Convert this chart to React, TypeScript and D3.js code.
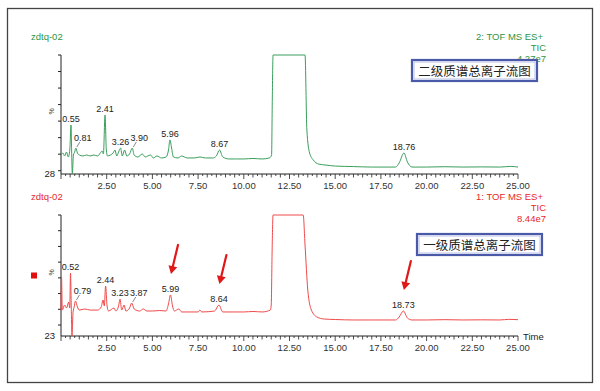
import React from 'react';
import * as d3 from 'd3';

// MS2 total ion chromatogram (time in min, relative %)
const tic2: [number, number][] = [
  [0.0, 39.5], [0.1, 40.7], [0.2, 38.9], [0.3, 41.3], [0.4, 38.3], [0.48, 42.5],
  [0.55, 57.6], [0.58, 42.5], [0.62, 28.3], [0.68, 39.5], [0.75, 41.3], [0.81, 43.7],
  [0.9, 40.7], [1.0, 39.5], [1.2, 38.9], [1.4, 39.5], [1.6, 38.9], [1.8, 39.5],
  [2.0, 38.9], [2.15, 40.7], [2.25, 41.9], [2.32, 40.1], [2.41, 63.7], [2.48, 42.5],
  [2.55, 38.9], [2.7, 39.5], [2.85, 40.7], [2.95, 42.5], [3.05, 38.9], [3.15, 41.3],
  [3.26, 43.7], [3.35, 38.9], [3.48, 42.5], [3.6, 38.9], [3.75, 40.1], [3.9, 43.7],
  [4.0, 39.5], [4.2, 38.3], [4.45, 40.1], [4.6, 38.3], [4.9, 39.5], [5.05, 37.7],
  [5.25, 38.9], [5.5, 37.7], [5.75, 38.3], [5.88, 42.5], [5.96, 48.6], [6.05, 43.7],
  [6.15, 38.3], [6.4, 37.7], [6.6, 38.9], [6.9, 37.7], [7.3, 37.7], [7.6, 38.3],
  [7.9, 37.7], [8.3, 37.7], [8.5, 38.9], [8.67, 42.5], [8.85, 38.3], [9.2, 37.1],
  [9.6, 37.1], [10.0, 37.1], [10.5, 37.4], [11.0, 37.1], [11.4, 37.7], [11.52, 39.5],
  [11.56, 74], [11.6, 100], [13.35, 100], [13.45, 54.6], [13.6, 40.7], [13.8, 36.5],
  [14.1, 34.0], [14.5, 33.4], [15.0, 32.8], [16.0, 32.5], [17.0, 32.2], [18.3, 32.2],
  [18.5, 34.7], [18.76, 40.7], [18.95, 35.3], [19.2, 32.2], [20.0, 32.2], [21.0, 32.4],
  [22.0, 32.2], [23.0, 32.3], [24.0, 32.2], [24.6, 32.6], [25.0, 32.2],
];

// MS1 total ion chromatogram
const tic1: [number, number][] = [
  [0.0, 39.5], [0.03, 60.5], [0.07, 39.5], [0.2, 42.7], [0.3, 40.8], [0.42, 44.6],
  [0.48, 40.8], [0.52, 63.1], [0.56, 42.7], [0.6, 23.0], [0.66, 38.3], [0.72, 41.5],
  [0.79, 45.3], [0.9, 41.5], [1.0, 39.5], [1.3, 40.2], [1.6, 39.5], [2.0, 39.5],
  [2.2, 41.5], [2.3, 45.9], [2.37, 42.1], [2.44, 54.8], [2.52, 42.1], [2.6, 38.9],
  [2.9, 40.8], [3.0, 38.9], [3.15, 42.1], [3.23, 46.5], [3.32, 39.5], [3.45, 42.7],
  [3.55, 38.9], [3.75, 40.8], [3.87, 44.0], [4.0, 40.2], [4.3, 38.9], [4.5, 40.2],
  [4.7, 38.9], [5.0, 38.9], [5.4, 39.2], [5.75, 38.9], [5.88, 43.4], [5.99, 49.1],
  [6.1, 42.1], [6.2, 38.9], [6.45, 40.2], [6.6, 38.3], [7.0, 38.3], [7.5, 38.3],
  [7.6, 39.5], [7.7, 38.3], [8.4, 38.9], [8.64, 42.7], [8.85, 38.3], [9.5, 38.3],
  [10.0, 38.3], [10.5, 38.6], [11.0, 38.3], [11.45, 39.5], [11.5, 42.7], [11.55, 77.7],
  [11.6, 100], [13.25, 100], [13.35, 80.9], [13.5, 52.3], [13.7, 39.5], [14.0, 35.1],
  [14.4, 33.8], [15.0, 33.5], [16.0, 33.2], [17.0, 33.2], [18.3, 33.2], [18.5, 35.1],
  [18.73, 38.9], [18.95, 34.5], [19.2, 33.2], [20.0, 33.2], [21.0, 33.4], [22.0, 33.2],
  [23.0, 33.3], [24.0, 33.2], [24.5, 33.6], [25.0, 33.4],
];

const tic2Peaks = ['0.55', '0.81', '2.41', '3.26', '3.90', '5.96', '8.67', '18.76'];
const tic1Peaks = ['0.52', '0.79', '2.44', '3.23', '3.87', '5.99', '8.64', '18.73'];
const leaderPeaks = ['0.81', '3.90', '0.79', '3.87'];
const arrowPeaks = ['5.99', '8.64', '18.73'];

const tic2Header = ['2: TOF MS ES+', 'TIC', '4.27e7'];
const tic1Header = ['1: TOF MS ES+', 'TIC', '8.44e7'];

const xTicks = d3.range(0, 25.001, 0.25);
const xLabels = d3.range(2.5, 25.001, 2.5);

const FONT = 'Liberation Sans, Arial, sans-serif';
const CJK = 'Noto Sans CJK SC, sans-serif';

const x = d3.scaleLinear().domain([0, 25]).range([61, 518]);

interface PanelProps {
  data: [number, number][];
  y: d3.ScaleLinear<number, number>;
  peaks: string[];
  header: string[];
  textColor: string;
  lineColor: string;
  title: string;
  boxX: number;
  boxY: number;
  showTime?: boolean;
  showArrows?: boolean;
  marker?: boolean;
}

function peakValue(data: [number, number][], t: number) {
  const near = data.filter(d => Math.abs(d[0] - t) <= 0.05);
  return d3.max(near, d => d[1]) ?? 0;
}

const Panel = ({ data, y, peaks, header, textColor, lineColor, title, boxX, boxY, showTime, showArrows, marker }: PanelProps) => {
  const [yMin, yMax] = y.domain();
  const y0 = y(yMin);
  const y1 = y(yMax);
  const line = d3.line<[number, number]>()
    .x(d => x(d[0]))
    .y(d => y(d[1]))
    .curve(d3.curveMonotoneX);
  const yTicks = d3.range(Math.ceil(yMin / 10) * 10, yMax + 0.1, 10);

  return (
    <g>
      <text x={31} y={y1 - 18} fontSize={9.5} fill={textColor} fontFamily={FONT} dy="0.35em">zdtq-02</text>
      {header.map((h, i) => (
        <text key={h} x={i === 0 ? 543 : 546} y={y1 - 18 + i * 11} fontSize={9.5} fill={textColor}
          fontFamily={FONT} textAnchor="end" dy="0.35em">{h}</text>
      ))}

      {/* y axis */}
      <line x1={61} x2={61} y1={y1} y2={y0} stroke="#222" strokeWidth={1} />
      {yTicks.map(t => (
        <line key={t} x1={58} x2={61} y1={y(t)} y2={y(t)} stroke="#222" strokeWidth={1} />
      ))}
      <text x={55} y={y0} fontSize={9.5} textAnchor="end" dy="0.35em" fontFamily={FONT} fill="#222">{yMin}</text>
      <text transform={`translate(52,${(y0 + y1) / 2 - 3}) rotate(-90)`} fontSize={7} textAnchor="middle"
        dy="0.35em" fontFamily={FONT} fill="#444">%</text>
      {marker && <rect x={31} y={(y0 + y1) / 2 - 3} width={6} height={6} fill="#e01010" />}

      {/* x axis */}
      <line x1={61} x2={518} y1={y0} y2={y0} stroke="#222" strokeWidth={1} />
      {xTicks.map(t => {
        const major = Math.abs(t % 2.5) < 1e-6;
        const half = Math.abs(t % 0.5) < 1e-6;
        return (
          <line key={t} x1={x(t)} x2={x(t)} y1={y0} y2={y0 + (major ? 5 : half ? 3.5 : 2)} stroke="#222" strokeWidth={0.8} />
        );
      })}
      {xLabels.map(t => (
        <text key={t} x={x(t)} y={y0 + 12} fontSize={9.5} textAnchor="middle" dy="0.35em" fontFamily={FONT} fill="#333">
          {d3.format('.2f')(t)}
        </text>
      ))}
      {showTime && (
        <text x={523} y={y0 + 1} fontSize={9.5} dy="0.35em" fontFamily={FONT} fill="#222">Time</text>
      )}

      <path d={line(data) ?? ''} fill="none" stroke={lineColor} strokeWidth={1} />

      {peaks.map(p => {
        const t = +p;
        const py = y(peakValue(data, t));
        const lead = leaderPeaks.includes(p);
        return (
          <g key={p}>
            {lead && <line x1={x(t) + 1} y1={py - 1} x2={x(t) + 4} y2={py - 6} stroke="#555" strokeWidth={0.7} />}
            <text x={x(t) + (lead ? 7 : 0)} y={py - (lead ? 10 : 6)} fontSize={9} textAnchor="middle" dy="0.35em"
              fontFamily={FONT} fill="#222">{p}</text>
          </g>
        );
      })}

      {showArrows && arrowPeaks.map(p => {
        const t = +p;
        const ex = x(t) + 0.5;
        const ey = y(peakValue(data, t)) - 21;
        const sx = ex + 7;
        const sy = ey - 29;
        const ang = Math.atan2(ey - sy, ex - sx);
        const hl = 8;
        const hw = 4.5;
        const bx = ex - hl * Math.cos(ang);
        const by = ey - hl * Math.sin(ang);
        const px = -Math.sin(ang) * hw;
        const py = Math.cos(ang) * hw;
        return (
          <g key={p}>
            <line x1={sx} y1={sy} x2={bx} y2={by} stroke="#e01818" strokeWidth={2.2} strokeLinecap="round" />
            <path d={`M${ex},${ey}L${bx + px},${by + py}L${bx - px},${by - py}Z`} fill="#e01818" />
          </g>
        );
      })}

      {/* title box */}
      <rect x={boxX} y={boxY} width={125} height={21} fill="#fff" stroke="#4a5aa8" strokeWidth={2.2} />
      <rect x={boxX + 2} y={boxY + 2} width={121} height={17} fill="none" stroke="#b8c0e6" strokeWidth={1} />
      <text x={boxX + 62.5} y={boxY + 11} fontSize={12.5} textAnchor="middle" dy="0.36em" fontFamily={CJK} fill="#222">
        {title}
      </text>
    </g>
  );
};

export default function App() {
  const yTop = d3.scaleLinear().domain([28, 100]).range([174, 55]);
  const yBot = d3.scaleLinear().domain([23, 100]).range([336, 215]);
  return (
    <svg width={600} height={391} style={{ position: 'absolute', left: 0, top: 0, background: '#fff' }}>
      <rect x={0} y={0} width={600} height={391} fill="#fff" />
      <rect x={7.5} y={8.5} width={585} height={374} fill="none" stroke="#444" strokeWidth={1.3} />
      <Panel data={tic2} y={yTop} peaks={tic2Peaks} header={tic2Header} textColor="#2f9444" lineColor="#3a9e5c"
        title="二级质谱总离子流图" boxX={412} boxY={60} />
      <Panel data={tic1} y={yBot} peaks={tic1Peaks} header={tic1Header} textColor="#e8282a" lineColor="#f04a4a"
        title="一级质谱总离子流图" boxX={417} boxY={234} showTime showArrows marker />
    </svg>
  );
}
